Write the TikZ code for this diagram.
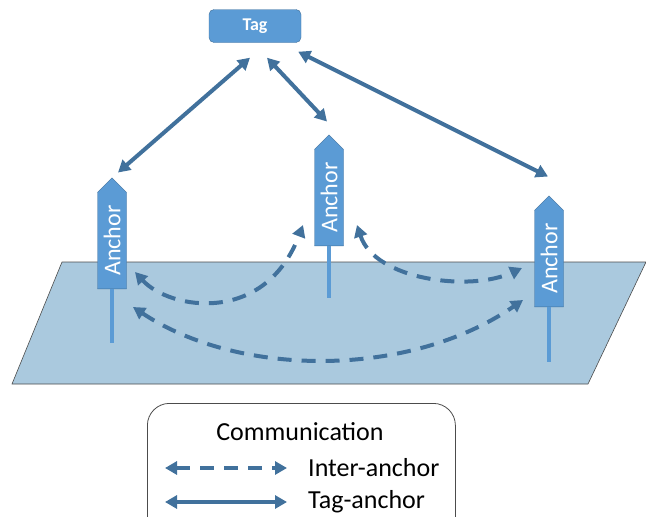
\documentclass[tikz,border=0pt]{standalone}
\usepackage{fontspec}
\setmainfont{Carlito}
\usetikzlibrary{shapes.symbols, arrows.meta, calc}
\definecolor{boxblue}{RGB}{91,155,213}
\definecolor{edgeblue}{RGB}{65,113,156}
\definecolor{floorblue}{RGB}{170,201,222}
\tikzset{
    x=1pt, y=-1pt, % screen-like coordinates, y grows downwards
    >={Triangle[length=12pt, width=13pt]}, % solid triangular heads
    tagbox/.style={draw=edgeblue, fill=boxblue, rounded corners=5pt, minimum width=92pt, minimum height=33pt, text=white, font=\fontsize{18}{20}\selectfont\bfseries},
    anchorbox/.style={signal, signal to=east, rotate=90, draw=edgeblue, fill=boxblue, text=white, inner sep=0pt, minimum width=111pt, minimum height=29pt, font=\fontsize{24}{26}\selectfont},
    pole/.style={draw=boxblue, line width=4pt},
    taglink/.style={<->, draw=edgeblue, line width=4pt},
    anchorlink/.style={<->, draw=edgeblue, line width=4pt, dash pattern=on 14pt off 10pt},
    legendtext/.style={font=\fontsize{26}{28}\selectfont, inner sep=0pt},
}

\begin{document}
\begin{tikzpicture}
    \useasboundingbox (0,0) rectangle (646,517);

    % the floor
    \filldraw[fill=floorblue, draw=gray!60!black, line width=0.6pt]
        (62,262) -- (646,262) -- (588,384) -- (12,384) -- cycle;

    % tag and anchors
    \node[tagbox] (tag) at (255,26) {Tag};
    \node[anchorbox, anchor=west] (a1) at (112,289) {Anchor};
    \node[anchorbox, anchor=west] (a2) at (329,246) {Anchor};
    \node[anchorbox, anchor=west] (a3) at (549,307) {Anchor};
    \draw[pole] (a1.west) -- ++(0,54);
    \draw[pole] (a2.west) -- ++(0,52);
    \draw[pole] (a3.west) -- ++(0,55);

    % tag to anchor ranging
    \draw[taglink] ($(tag.south)+(-5,15)$) -- ($(a1.east)+(6,-5)$);
    \draw[taglink] ($(tag.south)+(12,15)$) -- ($(a2.east)+(-2,-13)$);
    \draw[taglink] ($(tag.south east)+(-3,9)$) -- ($(a3.east)+(-1,-19)$);

    % anchor to anchor ranging
    \draw[anchorlink] ($(a1.west)+(23,-17)$) .. controls (170,310) and (265,325) .. ($(a2.west)+(-26,-21)$);
    \draw[anchorlink] ($(a2.west)+(28,-21)$) .. controls (375,280) and (470,292) .. ($(a3.west)+(-27,-39)$);
    \draw[anchorlink] ($(a1.west)+(21,18)$) .. controls (240,378) and (410,378) .. ($(a3.west)+(-26,-7)$);

    % legend
    \node[draw=gray!60!black, line width=0.8pt, rounded corners=22pt, minimum width=308pt, minimum height=140pt, anchor=north west] (legend) at (147,403) {};
    \node[legendtext] (title) at (300,432) {Communication};
    \node[legendtext, anchor=west] (keyinter) at (308,468) {Inter-anchor};
    \node[legendtext, anchor=west] (keytag) at (308,502) {Tag-anchor};
    \draw[anchorlink] ($(keyinter.west)+(-143,0)$) -- ($(keyinter.west)+(-21,0)$);
    \draw[taglink] ($(keytag.west)+(-143,0)$) -- ($(keytag.west)+(-21,0)$);
\end{tikzpicture}
\end{document}
